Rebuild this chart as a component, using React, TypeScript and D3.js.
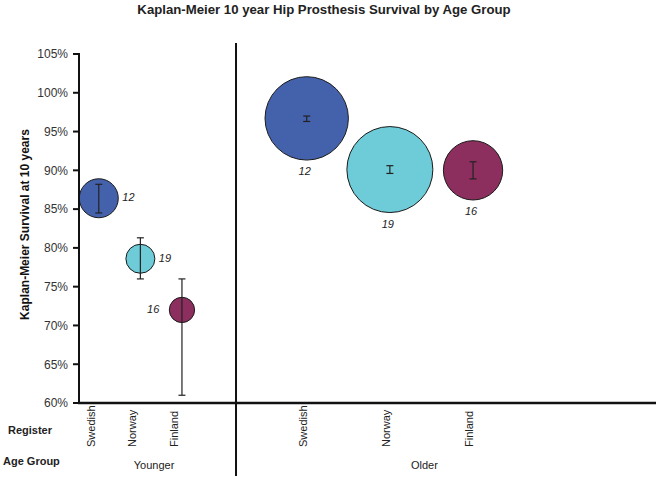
import React from "react";
import * as d3 from "d3";

const registers = ["Swedish", "Norway", "Finland"];
const ageGroups = ["Younger", "Older"];
const survival = [
  [86.4, 78.6, 72.0],
  [96.7, 90.1, 90.0],
];
const lowerCI = [
  [84.5, 76.0, 61.0],
  [96.3, 89.6, 88.9],
];
const upperCI = [
  [88.2, 81.3, 76.0],
  [97.0, 90.6, 91.1],
];
const bubbleSize = [
  [3.8, 2.1, 1.6],
  [17.4, 18.5, 8.8],
];
const pointLabels = [
  ["12", "19", "16"],
  ["12", "19", "16"],
];
const yTicks = [60, 65, 70, 75, 80, 85, 90, 95, 100, 105];
const colors = ["#4461AC", "#6DCCD8", "#8C2F5E"];

const W = 661;
const H = 480;
const FONT = "'Liberation Sans', Arial, sans-serif";

export default function App() {
  const y = d3.scaleLinear().domain([60, 105]).range([403, 54]);
  // slot units along the x axis
  const x = d3.scaleLinear().domain([0.5, 14.4]).range([78, 656]);
  const slot = (g: number, i: number) => (g === 0 ? 1 + i : 6 + 2 * i);
  const dividerSlot = 4.3;
  const groupCenterSlot = [2.33, 8.83];
  const r = d3.scaleSqrt().domain([0, 18.5]).range([0, 43]);
  const labelSide = [
    ["right", "right", "left"],
    ["below", "below", "below"],
  ];

  const points: any[] = [];
  ageGroups.forEach((g, gi) => {
    registers.forEach((reg, ri) => {
      points.push({
        gi,
        ri,
        cx: x(slot(gi, ri)),
        cy: y(survival[gi][ri]),
        rad: r(bubbleSize[gi][ri]),
        lo: y(lowerCI[gi][ri]),
        hi: y(upperCI[gi][ri]),
        label: pointLabels[gi][ri],
        side: labelSide[gi][ri],
      });
    });
  });

  const regLabelOffset = [-8, -4];

  return (
    <svg
      width={W}
      height={H}
      style={{ position: "absolute", left: 0, top: 0, fontFamily: FONT }}
    >
      <rect width={W} height={H} fill="#fff" />
      <text
        x={324}
        y={14}
        textAnchor="middle"
        fontWeight="bold"
        fontSize={13.2}
        fill="#222"
      >
        Kaplan-Meier 10 year Hip Prosthesis Survival by Age Group
      </text>

      {/* Y axis title */}
      <text
        transform={`translate(29,${(y(60) + y(105)) / 2 - 4}) rotate(-90)`}
        textAnchor="middle"
        fontWeight="bold"
        fontSize={12}
        fill="#111"
      >
        Kaplan-Meier Survival at 10 years
      </text>

      {/* Y ticks */}
      {yTicks.map((t) => (
        <g key={t}>
          <line x1={73} x2={79} y1={y(t)} y2={y(t)} stroke="#111" strokeWidth={2} />
          <text
            x={68}
            y={y(t)}
            dy="0.36em"
            textAnchor="end"
            fontSize={12}
            fill="#333"
          >
            {t}%
          </text>
        </g>
      ))}

      {/* bubbles */}
      {points.map((p, k) => (
        <g key={k}>
          <circle
            cx={p.cx}
            cy={p.cy}
            r={p.rad}
            fill={colors[p.ri]}
            stroke="#1a1a1a"
            strokeWidth={1}
          />
          <g stroke="#222" strokeWidth={1.2}>
            <line x1={p.cx} x2={p.cx} y1={p.lo} y2={p.hi} />
            <line x1={p.cx - 3.5} x2={p.cx + 3.5} y1={p.lo} y2={p.lo} />
            <line x1={p.cx - 3.5} x2={p.cx + 3.5} y1={p.hi} y2={p.hi} />
          </g>
          <text
            x={
              p.side === "right"
                ? p.cx + p.rad + 4
                : p.side === "left"
                ? p.cx - p.rad - 10
                : p.cx - 2
            }
            y={p.side === "below" ? p.cy + p.rad + 15 : p.cy - 1}
            dy={p.side === "below" ? 0 : "0.36em"}
            textAnchor={p.side === "right" ? "start" : p.side === "left" ? "end" : "middle"}
            fontStyle="italic"
            fontSize={11}
            fill="#222"
          >
            {p.label}
          </text>
        </g>
      ))}

      {/* axes */}
      <line x1={79} x2={79} y1={y(105) - 1} y2={y(60)} stroke="#111" strokeWidth={2} />
      <line x1={78} x2={656} y1={y(60)} y2={y(60)} stroke="#111" strokeWidth={2.5} />
      <line
        x1={x(dividerSlot)}
        x2={x(dividerSlot)}
        y1={43}
        y2={476}
        stroke="#111"
        strokeWidth={2}
      />

      {/* register labels */}
      {points.map((p, k) => (
        <text
          key={"r" + k}
          transform={`translate(${p.cx + regLabelOffset[p.gi] + 4},447) rotate(-90)`}
          textAnchor="start"
          fontSize={11}
          fill="#222"
        >
          {registers[p.ri]}
        </text>
      ))}

      {/* age group labels */}
      {ageGroups.map((g, gi) => (
        <text
          key={g}
          x={x(groupCenterSlot[gi])}
          y={469}
          textAnchor="middle"
          fontSize={11}
          fill="#222"
        >
          {g}
        </text>
      ))}

      <text x={8} y={434} fontWeight="bold" fontSize={11} fill="#222">
        Register
      </text>
      <text x={3} y={465} fontWeight="bold" fontSize={11} fill="#222">
        Age Group
      </text>
    </svg>
  );
}
